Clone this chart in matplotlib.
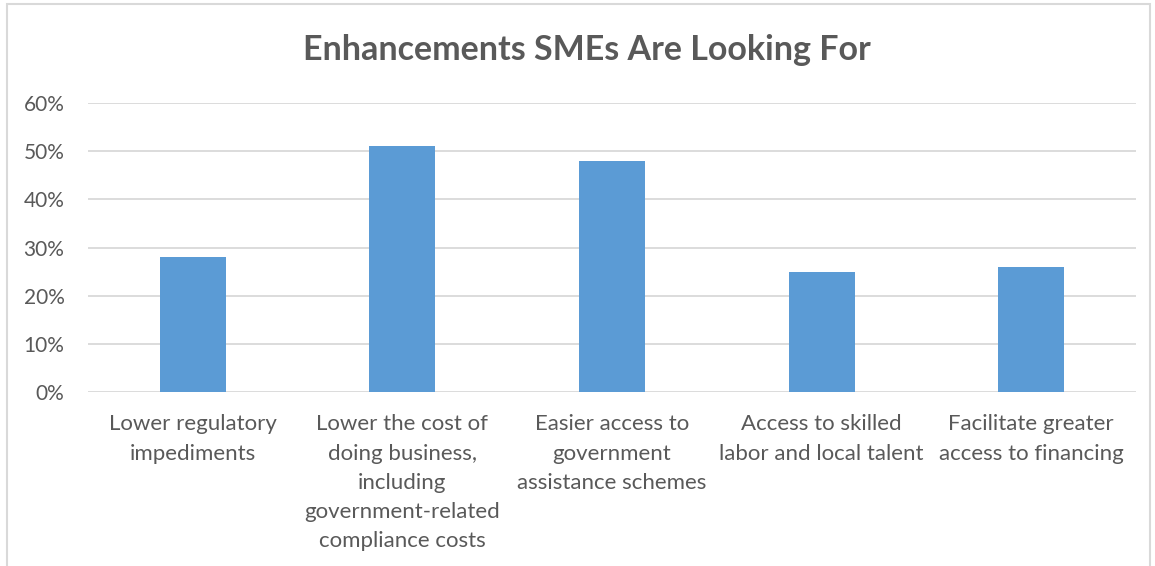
import matplotlib
matplotlib.use("Agg")
import matplotlib.pyplot as plt
from matplotlib.patches import Rectangle
from matplotlib.ticker import FuncFormatter

categories = ["Lower regulatory\nimpediments",
              "Lower the cost of\ndoing business,\nincluding\ngovernment-related\ncompliance costs",
              "Easier access to\ngovernment\nassistance schemes",
              "Access to skilled\nlabor and local talent",
              "Facilitate greater\naccess to financing"]
values = [0.28, 0.51, 0.48, 0.25, 0.26]

plt.rcParams['font.family'] = ['Lato', 'DejaVu Sans']
W, H = 1155, 566
fig = plt.figure(figsize=(W / 100, H / 100), dpi=100)
ax = fig.add_axes([88 / W, 1 - 392 / H, (1136 - 88) / W, (392 - 103) / H])

x = range(len(values))
ax.bar(x, values, width=0.315, color="#5B9BD5", zorder=3)
ax.set_xlim(-0.5, len(values) - 0.5)
ax.set_ylim(0, 0.6)
ax.set_yticks([i / 10 for i in range(7)])
ax.yaxis.set_major_formatter(FuncFormatter(lambda v, p: "%d%%" % round(v * 100)))
ax.set_xticks(list(x))
ax.set_xticklabels(categories, fontsize=16, color="#595959", linespacing=1.58)
ax.tick_params(axis='y', labelsize=15, labelcolor="#595959", length=0, pad=17)
ax.tick_params(axis='x', length=0, pad=16)
ax.grid(axis='y', color="#D9D9D9", linewidth=1.3, zorder=0)
for s in ax.spines.values():
    s.set_visible(False)

fig.text(587 / W, 1 - 50 / H, "Enhancements SMEs Are Looking For", ha="center", va="center",
         fontsize=24.5, fontweight="bold", color="#595959")

fig.patches.append(Rectangle((7 / W, -0.1), (1150 - 7) / W, 1 - 4 / H + 0.1,
                             transform=fig.transFigure, fill=False,
                             edgecolor="#D9D9D9", linewidth=1.5))

fig.savefig("out.png", dpi=100)
